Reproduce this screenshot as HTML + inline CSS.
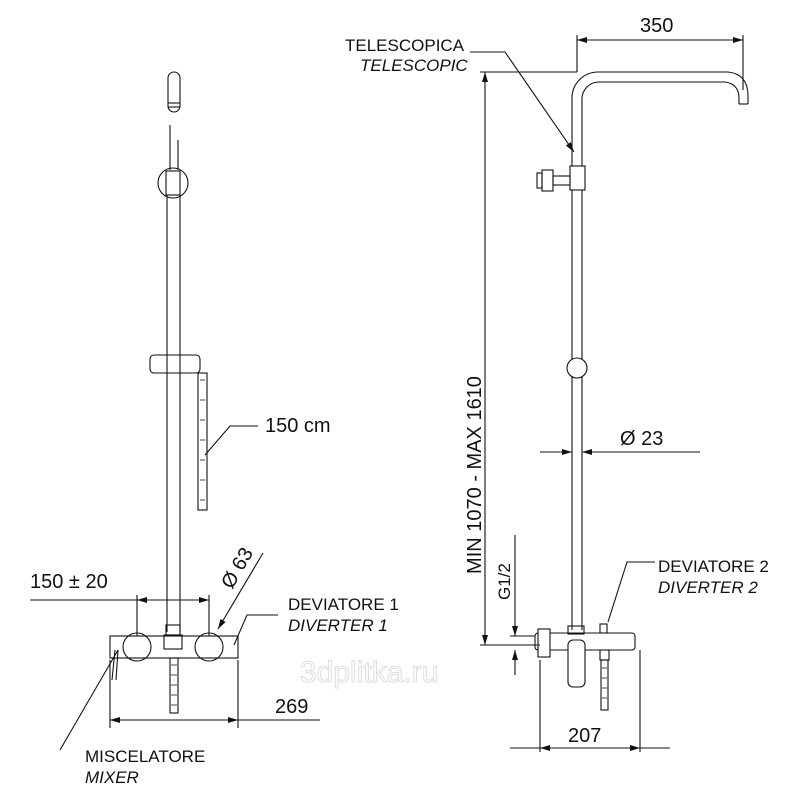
<!DOCTYPE html>
<html><head><style>body{margin:0;background:#fff}svg{display:block}text{font-family:"Liberation Sans",sans-serif;fill:#111}</style></head>
<body>
<svg width="800" height="800" viewBox="0 0 800 800" xmlns="http://www.w3.org/2000/svg">
<defs><marker id="a" viewBox="0 0 10 6" refX="10" refY="3" markerWidth="10" markerHeight="6" orient="auto-start-reverse" markerUnits="userSpaceOnUse"><path d="M0,0L10,3L0,6z" fill="#111"/></marker></defs>
<g fill="none" stroke="#111" stroke-width="1.1">
<!-- LEFT ASSEMBLY -->
<rect x="168" y="72" width="12" height="40" rx="6"/>
<line x1="168" y1="103" x2="180" y2="103"/>
<line x1="168" y1="107" x2="180" y2="107"/>
<line x1="170" y1="125" x2="170" y2="170"/>
<line x1="178" y1="140" x2="178" y2="170"/>
<circle cx="173" cy="183" r="15"/>
<rect x="166" y="171" width="14" height="24" fill="#fff"/>
<line x1="167" y1="195" x2="167" y2="632"/>
<line x1="180" y1="195" x2="180" y2="632"/>
<rect x="150" y="355" width="50" height="18" rx="4" fill="#fff"/>
<line x1="167" y1="355" x2="167" y2="373"/><line x1="180" y1="355" x2="180" y2="373"/>
<rect x="198" y="373" width="9" height="137"/>
<path d="M200 380h5M200 400h5M200 420h5M200 440h5M200 460h5M200 480h5M200 500h5" stroke-width="0.8"/>
<circle cx="137" cy="647" r="14"/>
<circle cx="209" cy="647" r="14"/>
<rect x="110" y="636" width="128" height="22"/>
<rect x="166" y="625" width="14" height="10"/>
<rect x="164" y="635" width="18" height="14"/>
<rect x="170" y="658" width="8" height="55"/>
<path d="M171 665h6M171 675h6M171 685h6M171 695h6M171 705h6" stroke-width="0.8"/>
<path d="M115 650 L112 680 M118 650 L116 680"/>
<!-- left dims -->
<line x1="110" y1="660" x2="110" y2="728"/>
<line x1="238" y1="660" x2="238" y2="728"/>
<line x1="110" y1="720" x2="238" y2="720" marker-start="url(#a)" marker-end="url(#a)"/>
<line x1="238" y1="720" x2="320" y2="720"/>
<line x1="137" y1="595" x2="137" y2="636"/>
<line x1="209" y1="595" x2="209" y2="636"/>
<line x1="30" y1="600" x2="137" y2="600"/>
<line x1="137" y1="600" x2="209" y2="600" marker-start="url(#a)" marker-end="url(#a)"/>
<line x1="263" y1="553" x2="218" y2="629" marker-end="url(#a)"/>
<path d="M278 615H247L234 645"/>
<path d="M60 750L118 650"/>
<path d="M258 426H230L205 455"/>
<!-- RIGHT ASSEMBLY -->
<path d="M572 630V98 A26 26 0 0 1 598 72H728 Q748 74 748 96 V104"/>
<path d="M582 630V100 A17 17 0 0 1 599 82H725 Q739 84 739 98 V104"/>
<line x1="739" y1="104" x2="748" y2="104"/>
<rect x="570" y="166" width="15" height="24" fill="#fff"/>
<rect x="553" y="176" width="17" height="9"/>
<rect x="542" y="170" width="11" height="21"/>
<rect x="537" y="173" width="5" height="15"/>
<circle cx="577" cy="368" r="10" fill="#fff"/>
<rect x="535" y="633" width="100" height="17" rx="3"/>
<rect x="538" y="629" width="12" height="28" fill="#fff"/>
<rect x="568" y="626" width="16" height="8"/>
<rect x="568" y="640" width="17" height="47" rx="5" fill="#fff"/>
<rect x="600" y="624" width="7" height="9"/>
<rect x="600" y="650" width="9" height="10"/>
<rect x="601" y="660" width="7" height="50"/>
<path d="M602 668h5M602 678h5M602 688h5M602 698h5" stroke-width="0.8"/>
<!-- right dims -->
<line x1="577" y1="35" x2="577" y2="72"/>
<line x1="743" y1="35" x2="743" y2="90"/>
<line x1="577" y1="40" x2="743" y2="40" marker-start="url(#a)" marker-end="url(#a)"/>
<line x1="480" y1="72" x2="577" y2="72"/>
<line x1="485" y1="72" x2="485" y2="645" marker-start="url(#a)" marker-end="url(#a)"/>
<line x1="480" y1="645" x2="540" y2="645"/>
<path d="M470 52H505L574 152" marker-end="url(#a)"/>
<line x1="540" y1="452" x2="572" y2="452" marker-end="url(#a)"/>
<line x1="700" y1="452" x2="582" y2="452" marker-end="url(#a)"/>
<line x1="515" y1="535" x2="515" y2="636" marker-end="url(#a)"/>
<line x1="515" y1="675" x2="515" y2="650" marker-end="url(#a)"/>
<line x1="510" y1="636" x2="535" y2="636"/>
<path d="M655 562H627L608 622"/>
<line x1="540" y1="660" x2="540" y2="752"/>
<line x1="640" y1="650" x2="640" y2="752"/>
<line x1="510" y1="748" x2="540" y2="748"/>
<line x1="540" y1="748" x2="640" y2="748" marker-start="url(#a)" marker-end="url(#a)"/>
<line x1="640" y1="748" x2="670" y2="748"/>
</g>
<text x="300" y="682" font-size="30" stroke="#ddd" stroke-width="1" style="fill:none">3dplitka.ru</text>
<g font-size="17">
<text x="265" y="432" font-size="20">150 cm</text>
<text x="30" y="588" font-size="20">150 ± 20</text>
<text x="0" y="0" font-size="20" transform="translate(232,590) rotate(-60)">Ø 63</text>
<text x="288" y="610">DEVIATORE 1</text>
<text x="288" y="631" font-style="italic">DIVERTER 1</text>
<text x="275" y="713" font-size="20">269</text>
<text x="85" y="762">MISCELATORE</text>
<text x="85" y="783" font-style="italic">MIXER</text>
<text x="345" y="51">TELESCOPICA</text>
<text x="360" y="71" font-style="italic">TELESCOPIC</text>
<text x="640" y="32" font-size="20">350</text>
<text x="0" y="0" font-size="20" transform="translate(481,475) rotate(-90)" text-anchor="middle">MIN 1070 - MAX 1610</text>
<text x="620" y="445" font-size="20">Ø 23</text>
<text x="0" y="0" font-size="17" transform="translate(510,600) rotate(-90)">G1/2</text>
<text x="658" y="572">DEVIATORE 2</text>
<text x="658" y="593" font-style="italic">DIVERTER 2</text>
<text x="568" y="742" font-size="20">207</text>
</g>
</svg>
</body></html>
